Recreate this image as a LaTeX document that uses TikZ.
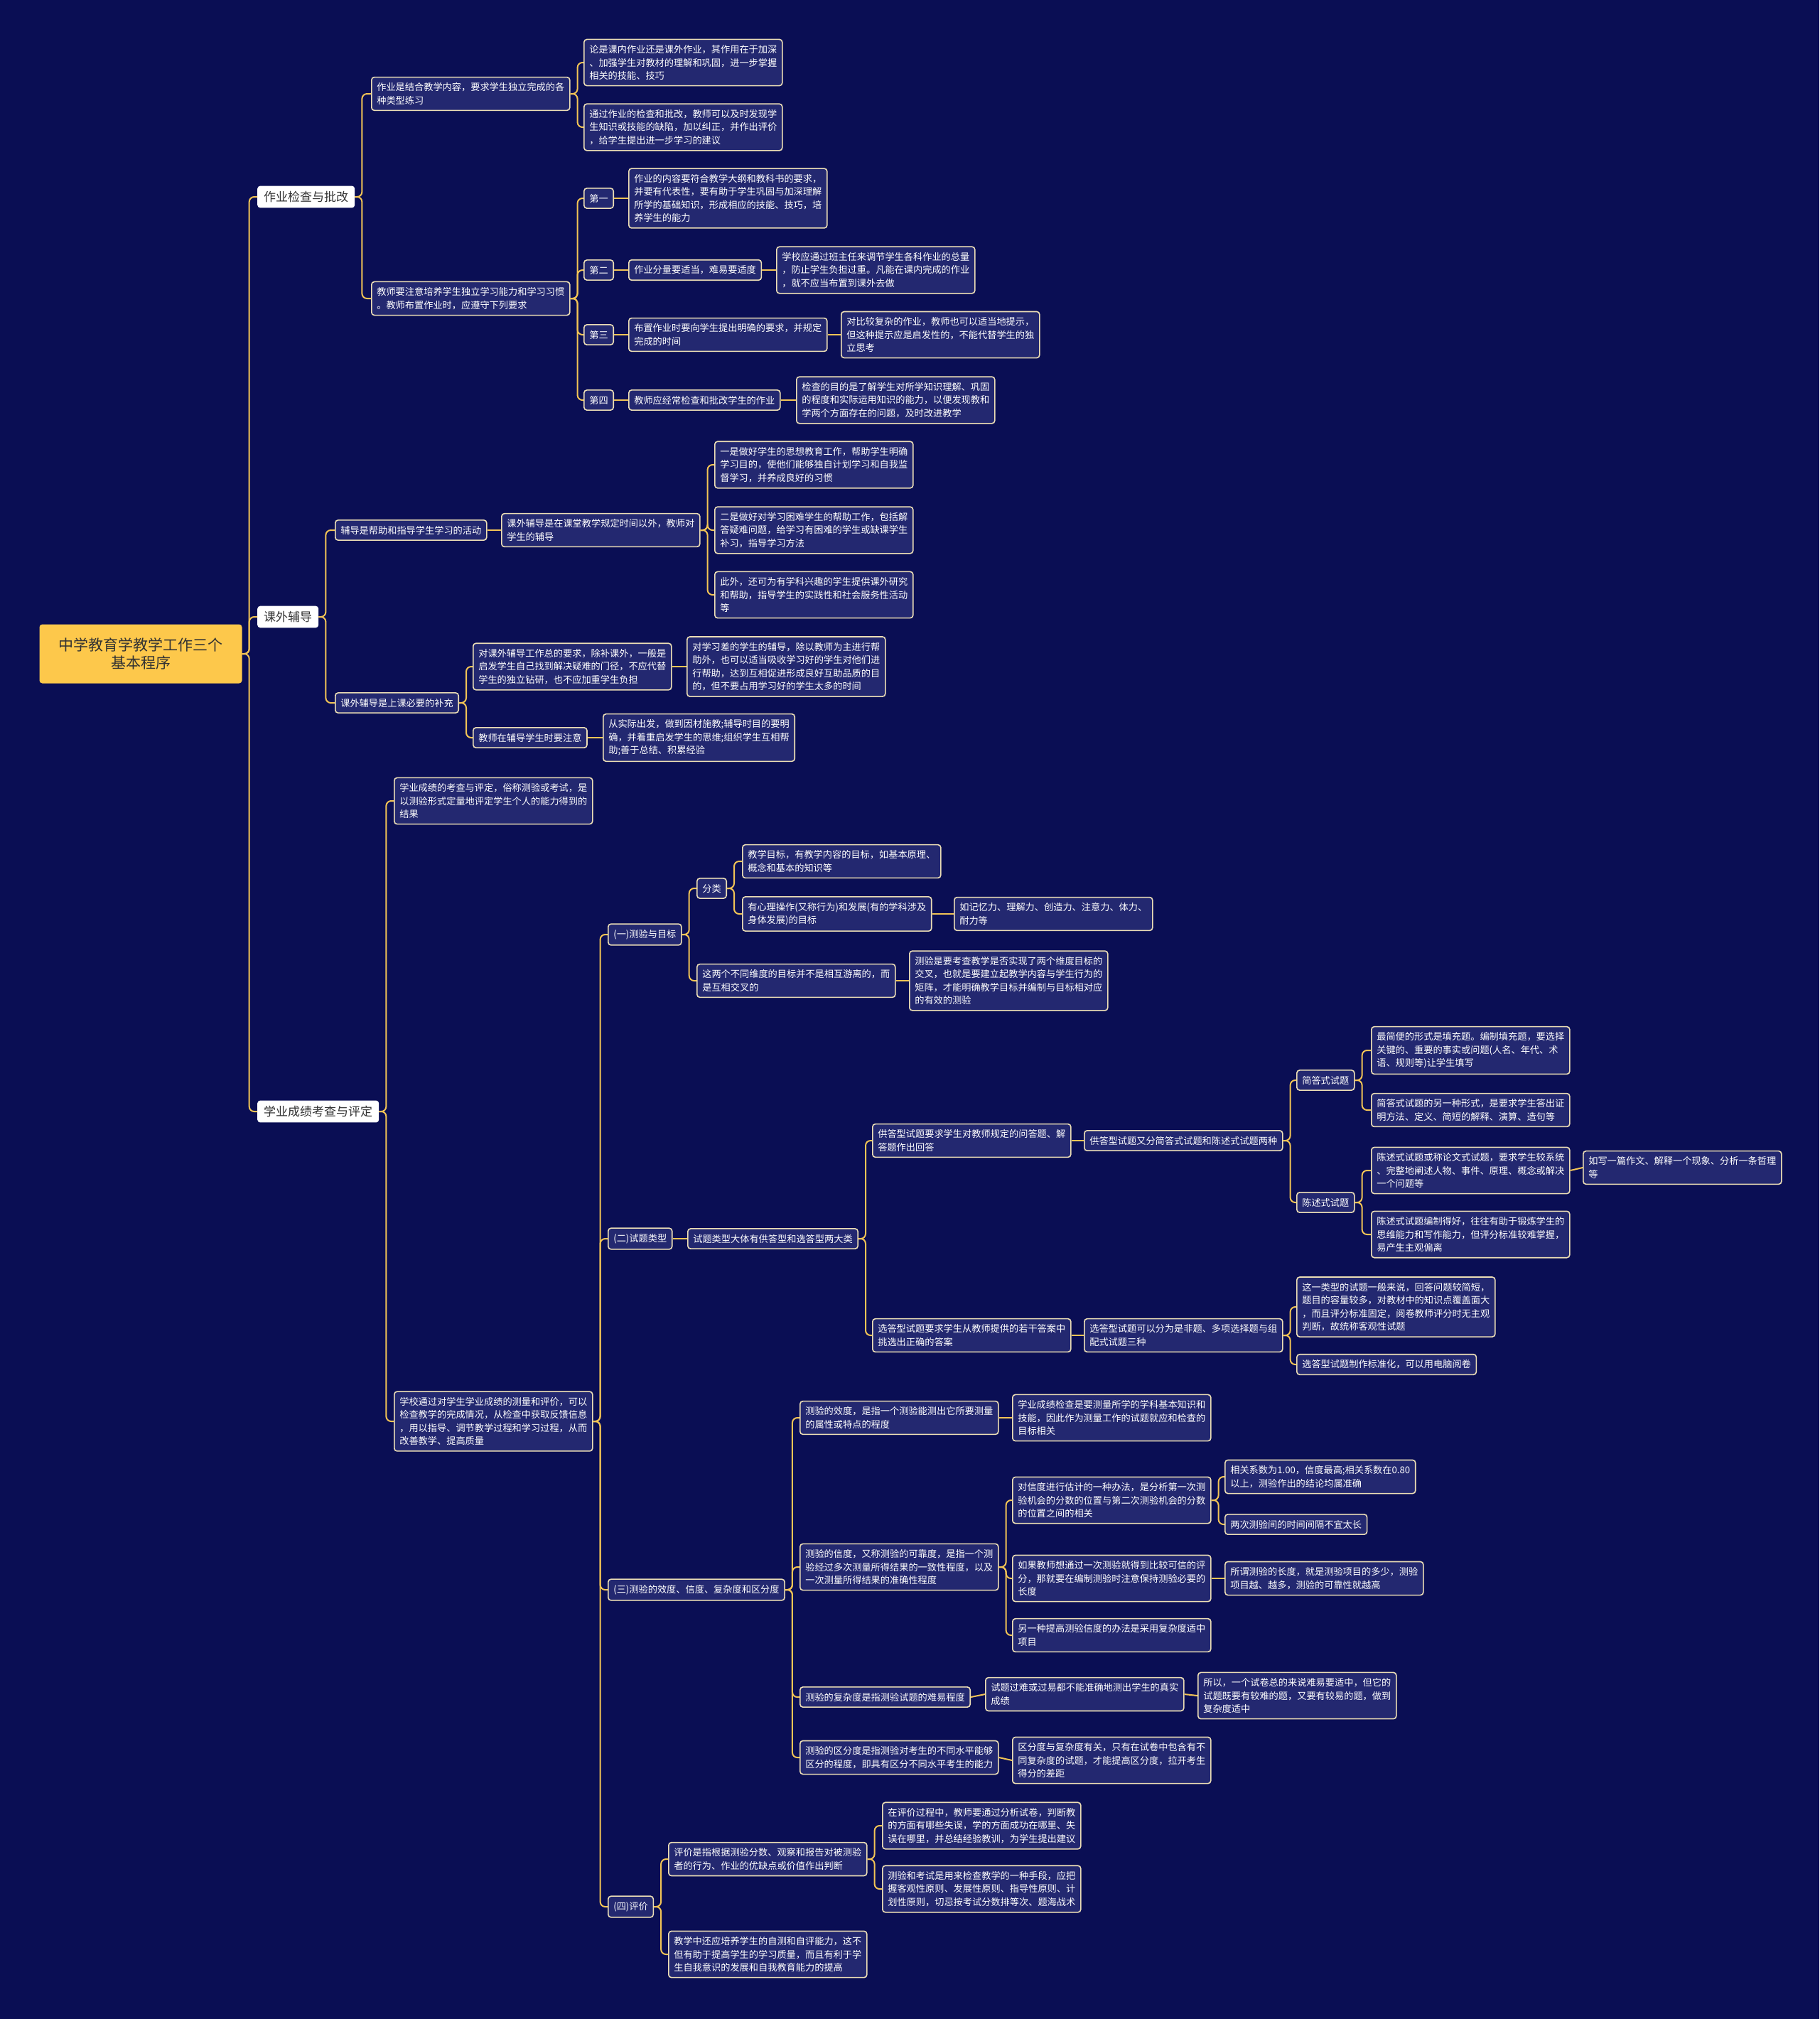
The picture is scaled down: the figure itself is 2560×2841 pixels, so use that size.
\documentclass[tikz,border=0pt]{standalone}
\usepackage{fontspec}
\setmainfont{Noto Sans CJK SC}
\usepackage{tikz}
\usetikzlibrary{positioning}
\usepackage{xcolor}
\definecolor{BG}{RGB}{10,14,84}
\definecolor{NB}{RGB}{35,40,112}
\definecolor{NE}{RGB}{236,222,182}
\definecolor{LK}{RGB}{242,196,86}
\definecolor{RY}{RGB}{253,200,75}
\definecolor{DT}{RGB}{51,51,51}

\begin{document}
\begin{tikzpicture}[
  x=1pt, y=-1pt,
  note/.style={draw=NE, line width=1.6pt, fill=NB, rounded corners=4pt, anchor=west,
               text=white, align=left, font=\fontsize{13.2}{18.5}\selectfont,
               inner xsep=7.5pt, inner ysep=8pt},
  main/.style={fill=white, rounded corners=4pt, anchor=west, text=DT,
               font=\fontsize{17}{20}\selectfont, inner xsep=9pt, inner ysep=7.5pt},
  link/.style={draw=LK, line width=2pt, rounded corners=7pt}
]
\fill[BG] (0,0) rectangle (2560,2841);
\useasboundingbox (0,0) rectangle (2560,2841);

\node[fill=RY, rounded corners=4pt, text=DT, align=center, font=\fontsize{21}{25}\selectfont,
      minimum width=285pt, minimum height=83pt] (r) at (198,920) {中学教育学教学工作三个\\基本程序};
\node[main] (z) at (362,277)  {作业检查与批改};
\node[main] (k) at (362,868)  {课外辅导};
\node[main] (x) at (362,1564) {学业成绩考查与评定};

\node[note] (z1)  at (522,132) {作业是结合教学内容，要求学生独立完成的各\\种类型练习};
\node[note] (z11) at (821,88)  {论是课内作业还是课外作业，其作用在于加深\\、加强学生对教材的理解和巩固，进一步掌握\\相关的技能、技巧};
\node[note] (z12) at (821,179) {通过作业的检查和批改，教师可以及时发现学\\生知识或技能的缺陷，加以纠正，并作出评价\\，给学生提出进一步学习的建议};
\node[note] (z2)  at (522,420) {教师要注意培养学生独立学习能力和学习习惯\\。教师布置作业时，应遵守下列要求};
\node[note] (d1)  at (821,279) {第一};
\node[note] (d1a) at (884,279) {作业的内容要符合教学大纲和教科书的要求，\\并要有代表性，要有助于学生巩固与加深理解\\所学的基础知识，形成相应的技能、技巧，培\\养学生的能力};
\node[note] (d2)  at (821,380) {第二};
\node[note] (d2a) at (884,380) {作业分量要适当，难易要适度};
\node[note] (d2b) at (1092,380) {学校应通过班主任来调节学生各科作业的总量\\，防止学生负担过重。凡能在课内完成的作业\\，就不应当布置到课外去做};
\node[note] (d3)  at (821,471) {第三};
\node[note] (d3a) at (884,471) {布置作业时要向学生提出明确的要求，并规定\\完成的时间};
\node[note] (d3b) at (1183,471) {对比较复杂的作业，教师也可以适当地提示，\\但这种提示应是启发性的，不能代替学生的独\\立思考};
\node[note] (d4)  at (821,563) {第四};
\node[note] (d4a) at (884,563) {教师应经常检查和批改学生的作业};
\node[note] (d4b) at (1120,563) {检查的目的是了解学生对所学知识理解、巩固\\的程度和实际运用知识的能力，以便发现教和\\学两个方面存在的问题，及时改进教学};

\node[note] (k1)   at (471,746)  {辅导是帮助和指导学生学习的活动};
\node[note] (k1a)  at (705,746)  {课外辅导是在课堂教学规定时间以外，教师对\\学生的辅导};
\node[note] (k1a1) at (1005,654) {一是做好学生的思想教育工作，帮助学生明确\\学习目的，使他们能够独自计划学习和自我监\\督学习，并养成良好的习惯};
\node[note] (k1a2) at (1005,746) {二是做好对学习困难学生的帮助工作，包括解\\答疑难问题，给学习有困难的学生或缺课学生\\补习，指导学习方法};
\node[note] (k1a3) at (1005,837) {此外，还可为有学科兴趣的学生提供课外研究\\和帮助，指导学生的实践性和社会服务性活动\\等};
\node[note] (k2)   at (471,989)  {课外辅导是上课必要的补充};
\node[note] (k2a)  at (665,938)  {对课外辅导工作总的要求，除补课外，一般是\\启发学生自己找到解决疑难的门径，不应代替\\学生的独立钻研，也不应加重学生负担};
\node[note] (k2a1) at (966,938)  {对学习差的学生的辅导，除以教师为主进行帮\\助外，也可以适当吸收学习好的学生对他们进\\行帮助，达到互相促进形成良好互助品质的目\\的，但不要占用学习好的学生太多的时间};
\node[note] (k2b)  at (665,1038) {教师在辅导学生时要注意};
\node[note] (k2b1) at (848,1038) {从实际出发，做到因材施教;辅导时目的要明\\确，并着重启发学生的思维;组织学生互相帮\\助;善于总结、积累经验};

\node[note] (x1) at (554,1127) {学业成绩的考查与评定，俗称测验或考试，是\\以测验形式定量地评定学生个人的能力得到的\\结果};
\node[note] (x2) at (554,2000) {学校通过对学生学业成绩的测量和评价，可以\\检查教学的完成情况，从检查中获取反馈信息\\，用以指导、调节教学过程和学习过程，从而\\改善教学、提高质量};

\node[note] (t1)    at (855,1315)  {(一)测验与目标};
\node[note] (t1a)   at (980,1250)  {分类};
\node[note] (t1a1)  at (1044,1212) {教学目标，有教学内容的目标，如基本原理、\\概念和基本的知识等};
\node[note] (t1a2)  at (1044,1286) {有心理操作(又称行为)和发展(有的学科涉及\\身体发展)的目标};
\node[note] (t1a2a) at (1342,1286) {如记忆力、理解力、创造力、注意力、体力、\\耐力等};
\node[note] (t1b)   at (980,1380)  {这两个不同维度的目标并不是相互游离的，而\\是互相交叉的};
\node[note] (t1b1)  at (1279,1380) {测验是要考查教学是否实现了两个维度目标的\\交叉，也就是要建立起教学内容与学生行为的\\矩阵，才能明确教学目标并编制与目标相对应\\的有效的测验};

\node[note] (t2)     at (855,1743)  {(二)试题类型};
\node[note] (t2a)    at (967,1743)  {试题类型大体有供答型和选答型两大类};
\node[note] (t2a1)   at (1227,1605) {供答型试题要求学生对教师规定的问答题、解\\答题作出回答};
\node[note] (t2a1a)  at (1525,1605) {供答型试题又分简答式试题和陈述式试题两种};
\node[note] (j)      at (1824,1520) {简答式试题};
\node[note] (j1)     at (1929,1478) {最简便的形式是填充题。编制填充题，要选择\\关键的、重要的事实或问题(人名、年代、术\\语、规则等)让学生填写};
\node[note] (j2)     at (1929,1562) {简答式试题的另一种形式，是要求学生答出证\\明方法、定义、简短的解释、演算、造句等};
\node[note] (c)      at (1824,1692) {陈述式试题};
\node[note] (c1)     at (1929,1647) {陈述式试题或称论文式试题，要求学生较系统\\、完整地阐述人物、事件、原理、概念或解决\\一个问题等};
\node[note] (c1a)    at (2227,1643) {如写一篇作文、解释一个现象、分析一条哲理\\等};
\node[note] (c2)     at (1929,1737) {陈述式试题编制得好，往往有助于锻炼学生的\\思维能力和写作能力，但评分标准较难掌握，\\易产生主观偏离};
\node[note] (t2a2)   at (1227,1879) {选答型试题要求学生从教师提供的若干答案中\\挑选出正确的答案};
\node[note] (t2a2a)  at (1525,1879) {选答型试题可以分为是非题、多项选择题与组\\配式试题三种};
\node[note] (t2a2a1) at (1824,1839) {这一类型的试题一般来说，回答问题较简短，\\题目的容量较多，对教材中的知识点覆盖面大\\，而且评分标准固定，阅卷教师评分时无主观\\判断，故统称客观性试题};
\node[note] (t2a2a2) at (1824,1920) {选答型试题制作标准化，可以用电脑阅卷};

\node[note] (t3)  at (855,2237)  {(三)测验的效度、信度、复杂度和区分度};
\node[note] (v1)  at (1125,1995) {测验的效度，是指一个测验能测出它所要测量\\的属性或特点的程度};
\node[note] (v1a) at (1424,1995) {学业成绩检查是要测量所学的学科基本知识和\\技能，因此作为测量工作的试题就应和检查的\\目标相关};
\node[note] (q)   at (1125,2205) {测验的信度，又称测验的可靠度，是指一个测\\验经过多次测量所得结果的一致性程度，以及\\一次测量所得结果的准确性程度};
\node[note] (q1)  at (1424,2111) {对信度进行估计的一种办法，是分析第一次测\\验机会的分数的位置与第二次测验机会的分数\\的位置之间的相关};
\node[note] (q1a) at (1723,2078) {相关系数为1.00，信度最高;相关系数在0.80\\以上，测验作出的结论均属准确};
\node[note] (q1b) at (1723,2145) {两次测验间的时间间隔不宜太长};
\node[note] (q2)  at (1424,2221) {如果教师想通过一次测验就得到比较可信的评\\分，那就要在编制测验时注意保持测验必要的\\长度};
\node[note] (q2a) at (1723,2221) {所谓测验的长度，就是测验项目的多少，测验\\项目越、越多，测验的可靠性就越高};
\node[note] (q3)  at (1424,2301) {另一种提高测验信度的办法是采用复杂度适中\\项目};
\node[note] (f)   at (1125,2388) {测验的复杂度是指测验试题的难易程度};
\node[note] (f1)  at (1386,2384) {试题过难或过易都不能准确地测出学生的真实\\成绩};
\node[note] (f1a) at (1685,2386) {所以，一个试卷总的来说难易要适中，但它的\\试题既要有较难的题，又要有较易的题，做到\\复杂度适中};
\node[note] (g)   at (1125,2473) {测验的区分度是指测验对考生的不同水平能够\\区分的程度，即具有区分不同水平考生的能力};
\node[note] (g1)  at (1424,2477) {区分度与复杂度有关，只有在试卷中包含有不\\同复杂度的试题，才能提高区分度，拉开考生\\得分的差距};

\node[note] (t4)  at (855,2683)  {(四)评价};
\node[note] (p1)  at (940,2616)  {评价是指根据测验分数、观察和报告对被测验\\者的行为、作业的优缺点或价值作出判断};
\node[note] (p1a) at (1241,2569) {在评价过程中，教师要通过分析试卷，判断教\\的方面有哪些失误，学的方面成功在哪里、失\\误在哪里，并总结经验教训，为学生提出建议};
\node[note] (p1b) at (1241,2658) {测验和考试是用来检查教学的一种手段，应把\\握客观性原则、发展性原则、指导性原则、计\\划性原则，切忌按考试分数排等次、题海战术};
\node[note] (p2)  at (940,2750)  {教学中还应培养学生的自测和自评能力，这不\\但有助于提高学生的学习质量，而且有利于学\\生自我意识的发展和自我教育能力的提高};

\draw[link] (r.east) -- ++(10,0) |- (z.west);
\draw[link] (r.east) -- ++(10,0) |- (k.west);
\draw[link] (r.east) -- ++(10,0) |- (x.west);
\draw[link] (z.east) -- ++(10,0) |- (z1.west);
\draw[link] (z.east) -- ++(10,0) |- (z2.west);
\draw[link] (z1.east) -- ++(10,0) |- (z11.west);
\draw[link] (z1.east) -- ++(10,0) |- (z12.west);
\draw[link] (z2.east) -- ++(10,0) |- (d1.west);
\draw[link] (z2.east) -- ++(10,0) |- (d2.west);
\draw[link] (z2.east) -- ++(10,0) |- (d3.west);
\draw[link] (z2.east) -- ++(10,0) |- (d4.west);
\draw[link] (d1.east) -- (d1a.west);
\draw[link] (d2.east) -- (d2a.west);
\draw[link] (d2a.east) -- (d2b.west);
\draw[link] (d3.east) -- (d3a.west);
\draw[link] (d3a.east) -- (d3b.west);
\draw[link] (d4.east) -- (d4a.west);
\draw[link] (d4a.east) -- (d4b.west);
\draw[link] (k.east) -- ++(10,0) |- (k1.west);
\draw[link] (k.east) -- ++(10,0) |- (k2.west);
\draw[link] (k1.east) -- (k1a.west);
\draw[link] (k1a.east) -- ++(10,0) |- (k1a1.west);
\draw[link] (k1a.east) -- ++(10,0) |- (k1a2.west);
\draw[link] (k1a.east) -- ++(10,0) |- (k1a3.west);
\draw[link] (k2.east) -- ++(10,0) |- (k2a.west);
\draw[link] (k2.east) -- ++(10,0) |- (k2b.west);
\draw[link] (k2a.east) -- (k2a1.west);
\draw[link] (k2b.east) -- (k2b1.west);
\draw[link] (x.east) -- ++(10,0) |- (x1.west);
\draw[link] (x.east) -- ++(10,0) |- (x2.west);
\draw[link] (x2.east) -- ++(10,0) |- (t1.west);
\draw[link] (x2.east) -- ++(10,0) |- (t2.west);
\draw[link] (x2.east) -- ++(10,0) |- (t3.west);
\draw[link] (x2.east) -- ++(10,0) |- (t4.west);
\draw[link] (t1.east) -- ++(10,0) |- (t1a.west);
\draw[link] (t1.east) -- ++(10,0) |- (t1b.west);
\draw[link] (t1a.east) -- ++(10,0) |- (t1a1.west);
\draw[link] (t1a.east) -- ++(10,0) |- (t1a2.west);
\draw[link] (t1a2.east) -- (t1a2a.west);
\draw[link] (t1b.east) -- (t1b1.west);
\draw[link] (t2.east) -- (t2a.west);
\draw[link] (t2a.east) -- ++(10,0) |- (t2a1.west);
\draw[link] (t2a.east) -- ++(10,0) |- (t2a2.west);
\draw[link] (t2a1.east) -- (t2a1a.west);
\draw[link] (t2a1a.east) -- ++(10,0) |- (j.west);
\draw[link] (t2a1a.east) -- ++(10,0) |- (c.west);
\draw[link] (j.east) -- ++(10,0) |- (j1.west);
\draw[link] (j.east) -- ++(10,0) |- (j2.west);
\draw[link] (c.east) -- ++(10,0) |- (c1.west);
\draw[link] (c.east) -- ++(10,0) |- (c2.west);
\draw[link] (c1.east) -- (c1a.west);
\draw[link] (t2a2.east) -- (t2a2a.west);
\draw[link] (t2a2a.east) -- ++(10,0) |- (t2a2a1.west);
\draw[link] (t2a2a.east) -- ++(10,0) |- (t2a2a2.west);
\draw[link] (t3.east) -- ++(10,0) |- (v1.west);
\draw[link] (t3.east) -- ++(10,0) |- (q.west);
\draw[link] (t3.east) -- ++(10,0) |- (f.west);
\draw[link] (t3.east) -- ++(10,0) |- (g.west);
\draw[link] (v1.east) -- (v1a.west);
\draw[link] (q.east) -- ++(10,0) |- (q1.west);
\draw[link] (q.east) -- ++(10,0) |- (q2.west);
\draw[link] (q.east) -- ++(10,0) |- (q3.west);
\draw[link] (q1.east) -- ++(10,0) |- (q1a.west);
\draw[link] (q1.east) -- ++(10,0) |- (q1b.west);
\draw[link] (q2.east) -- (q2a.west);
\draw[link] (f.east) -- (f1.west);
\draw[link] (f1.east) -- (f1a.west);
\draw[link] (g.east) -- (g1.west);
\draw[link] (t4.east) -- ++(10,0) |- (p1.west);
\draw[link] (t4.east) -- ++(10,0) |- (p2.west);
\draw[link] (p1.east) -- ++(10,0) |- (p1a.west);
\draw[link] (p1.east) -- ++(10,0) |- (p1b.west);
\end{tikzpicture}
\end{document}
